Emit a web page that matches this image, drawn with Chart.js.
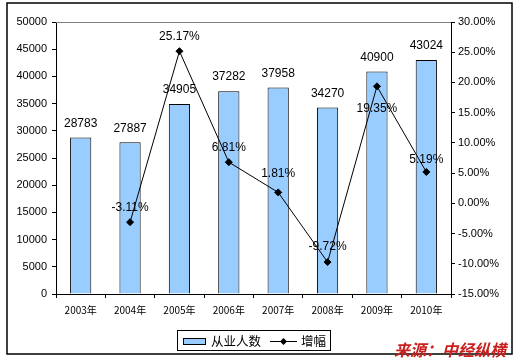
<!DOCTYPE html>
<html>
<head>
<meta charset="utf-8">
<script src="https://cdn.jsdelivr.net/npm/chart.js@4.4.1/dist/chart.umd.min.js"></script>
<style>
  html, body { margin: 0; padding: 0; background: #fff; }
  #wrap { width: 517px; height: 364px; }
</style>
</head>
<body>
<div id="wrap"><canvas id="c" width="517" height="364"></canvas></div>
<script>
// ---- data ----
const categories = ['2003年', '2004年', '2005年', '2006年', '2007年', '2008年', '2009年', '2010年'];
const employees = [28783, 27887, 34905, 37282, 37958, 34270, 40900, 43024];
const growth = [null, -3.11, 25.17, 6.81, 1.81, -9.72, 19.35, 5.19];
const seriesNames = ['从业人数', '增幅'];
const sourceText = '来源：中经纵横';

// label vertical offsets (style, not data)
const growthLabelDy = [0, -14, -15, -14, -19, -15, 22, -12];

const FONT = 'Arial, "Liberation Sans", sans-serif';
const CJK = '"Noto Sans CJK SC", "Liberation Sans", sans-serif';

const labelPlugin = {
  id: 'labels',
  afterDatasetsDraw(chart) {
    const ctx = chart.ctx;
    ctx.save();
    ctx.fillStyle = '#000';
    ctx.textAlign = 'center';
    ctx.textBaseline = 'middle';
    ctx.font = '12px ' + FONT;
    const barMeta = chart.getDatasetMeta(1);
    barMeta.data.forEach((el, i) => {
      ctx.fillText(String(employees[i]), el.x, el.y - 14);
    });
    const lineMeta = chart.getDatasetMeta(0);
    lineMeta.data.forEach((el, i) => {
      if (growth[i] === null) return;
      ctx.fillText(growth[i].toFixed(2) + '%', el.x, el.y + growthLabelDy[i]);
    });
    ctx.restore();
  },
  afterDraw(chart) {
    const ctx = chart.ctx;
    ctx.save();
    const ca = chart.chartArea;
    ctx.strokeStyle = '#808080';
    ctx.lineWidth = 1;
    ctx.beginPath();
    ctx.moveTo(ca.left, Math.round(ca.top) + 0.5);
    ctx.lineTo(ca.right, Math.round(ca.top) + 0.5);
    ctx.stroke();
    // outer border
    ctx.strokeStyle = '#000';
    ctx.lineWidth = 1.5;
    ctx.strokeRect(7, 3, 505, 351);
    // legend box
    ctx.lineWidth = 1;
    ctx.fillStyle = '#fff';
    ctx.fillRect(177.5, 330.5, 153, 20);
    ctx.strokeRect(177.5, 330.5, 153, 20);
    ctx.fillStyle = '#99CCFF';
    ctx.fillRect(183.5, 338.5, 22, 6);
    ctx.strokeRect(183.5, 338.5, 22, 6);
    ctx.fillStyle = '#000';
    ctx.font = '12.5px ' + CJK;
    ctx.textAlign = 'left';
    ctx.textBaseline = 'middle';
    ctx.fillText(seriesNames[0], 211, 341);
    ctx.beginPath();
    ctx.moveTo(270, 341.5);
    ctx.lineTo(297, 341.5);
    ctx.stroke();
    ctx.beginPath();
    ctx.moveTo(283.5, 338);
    ctx.lineTo(287, 341.5);
    ctx.lineTo(283.5, 345);
    ctx.lineTo(280, 341.5);
    ctx.closePath();
    ctx.fill();
    ctx.fillText(seriesNames[1], 301, 341);
    // watermark
    ctx.fillStyle = '#C8201E';
    ctx.font = 'italic bold 16px ' + CJK;
    ctx.textAlign = 'left';
    ctx.fillText(sourceText, 394, 350);
    ctx.restore();
  }
};

new Chart(document.getElementById('c'), {
  data: {
    labels: categories,
    datasets: [
      {
        type: 'line',
        label: seriesNames[1],
        data: growth,
        yAxisID: 'y1',
        borderColor: '#000',
        backgroundColor: '#000',
        borderWidth: 1,
        pointStyle: 'rectRot',
        pointRadius: 3.5,
        pointBackgroundColor: '#000',
        pointBorderColor: '#000',
        tension: 0,
        spanGaps: false,
        order: 0
      },
      {
        type: 'bar',
        label: seriesNames[0],
        data: employees,
        yAxisID: 'y',
        backgroundColor: '#99CCFF',
        borderColor: '#000',
        borderWidth: 1,
        barPercentage: 0.43,
        categoryPercentage: 1.0,
        order: 1
      }
    ]
  },
  options: {
    responsive: false,
    animation: false,
    layout: { padding: { top: 22, left: 0, right: 0, bottom: 0 } },
    plugins: { legend: { display: false }, tooltip: { enabled: false } },
    scales: {
      x: {
        offset: true,
        grid: { offset: true, drawOnChartArea: false, drawTicks: true, tickLength: 4, tickColor: '#000', color: '#000' },
        border: { color: '#000', width: 1 },
        ticks: { color: '#000', font: { size: 10, family: CJK }, padding: 6, maxRotation: 0, autoSkip: false },
        afterFit(s) { s.height = 70; }
      },
      y: {
        position: 'left',
        min: 0, max: 50000,
        ticks: { stepSize: 5000, color: '#000', font: { size: 11, family: FONT }, padding: 5,
          callback: v => String(v) },
        grid: { drawOnChartArea: false, tickLength: 4, tickColor: '#000', color: '#000' },
        border: { color: '#000', width: 1 },
        afterFit(s) { s.width = 56; }
      },
      y1: {
        position: 'right',
        min: -15, max: 30,
        ticks: { stepSize: 5, color: '#000', font: { size: 11, family: FONT }, padding: 3,
          callback: v => v.toFixed(2) + '%' },
        grid: { drawOnChartArea: false, tickLength: 4, tickColor: '#000', color: '#000' },
        border: { color: '#000', width: 1 },
        afterFit(s) { s.width = 66; }
      }
    }
  },
  plugins: [labelPlugin]
});
</script>
</body>
</html>
